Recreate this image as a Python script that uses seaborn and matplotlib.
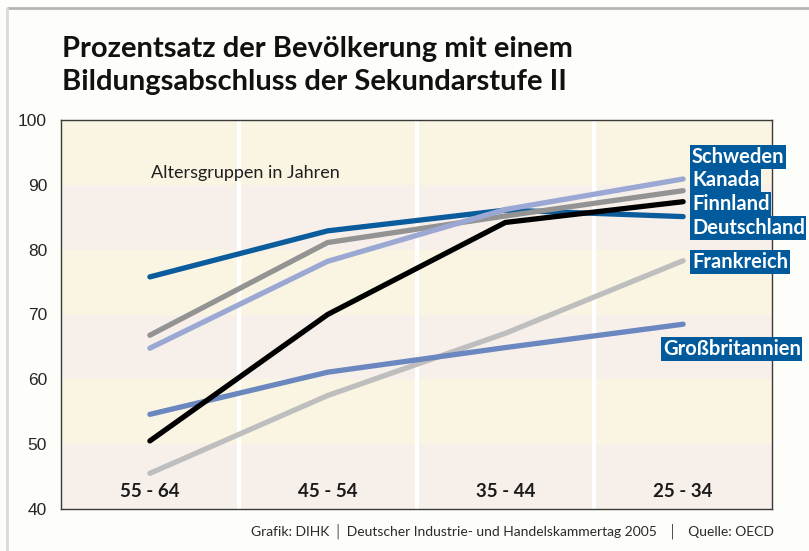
import matplotlib
matplotlib.use("Agg")
import matplotlib.pyplot as plt
import matplotlib.transforms as mtransforms
from matplotlib.lines import Line2D
import seaborn as sns
import pandas as pd

# data
age_groups = ["55 - 64", "45 - 54", "35 - 44", "25 - 34"]
schweden = [64.8, 78.2, 86.2, 90.9]
kanada = [66.8, 81.1, 85.2, 89.1]
finnland = [50.5, 70.0, 84.2, 87.4]
deutschland = [75.8, 82.9, 86.1, 85.1]
frankreich = [45.5, 57.5, 67.1, 78.3]
grossbritannien = [54.6, 61.1, 64.9, 68.5]

countries = ["Frankreich", "Großbritannien", "Deutschland", "Kanada", "Finnland", "Schweden"]
values = {
    "Schweden": schweden,
    "Kanada": kanada,
    "Finnland": finnland,
    "Deutschland": deutschland,
    "Frankreich": frankreich,
    "Großbritannien": grossbritannien,
}
palette = {
    "Schweden": "#9aa8d3",
    "Kanada": "#939393",
    "Finnland": "#000000",
    "Deutschland": "#0b5c9c",
    "Frankreich": "#bebebe",
    "Großbritannien": "#6a87bf",
}
yticks = [40, 50, 60, 70, 80, 90, 100]

rows = []
for c in countries:
    for g, v in zip(age_groups, values[c]):
        rows.append({"Altersgruppe": g, "Land": c, "Prozent": v})
df = pd.DataFrame(rows)

sns.set_style("white")
plt.rcParams["font.family"] = ["Lato", "DejaVu Sans"]

fig = plt.figure(figsize=(8.09, 5.51), dpi=100)
fig.patch.set_facecolor("#fdfdf9")
ax = fig.add_axes([61 / 809, 42 / 551, 711 / 809, 389 / 551])

# alternating background bands
band_colors = ["#f6efea", "#faf5e2"]
for i, lo in enumerate(yticks[:-1]):
    ax.axhspan(lo, lo + 10, color=band_colors[i % 2], lw=0, zorder=0)
for xv in [0.5, 1.5, 2.5]:
    ax.axvline(xv, color="white", lw=3, zorder=1)

sns.lineplot(data=df, x="Altersgruppe", y="Prozent", hue="Land",
             hue_order=countries, palette=palette, sort=False,
             lw=3.8, solid_capstyle="round", legend=False, ax=ax, zorder=3)

ax.set_xlim(-0.5, 3.5)
ax.set_ylim(40, 100)
ax.set_yticks(yticks)
ax.set_yticklabels([str(t) for t in yticks], fontsize=12.5,
                   family="Liberation Sans")
ax.tick_params(axis="y", length=0, pad=10)
ax.set_xticks([])
ax.set_xlabel("")
ax.set_ylabel("")
for s in ax.spines.values():
    s.set_color("#3a3a3a")
    s.set_linewidth(1.0)

# category labels inside the plot
trans = mtransforms.blended_transform_factory(ax.transData, ax.transAxes)
for i, g in enumerate(age_groups):
    ax.text(i, 0.045, g, transform=trans, ha="center", va="center",
            fontsize=13.5, fontweight="bold", color="#1a1a1a")

ax.text(0.127, 0.865, "Altersgruppen in Jahren", transform=ax.transAxes,
        fontsize=13, color="#1f1f1f", va="center")

# country labels on the right
label_pos = {
    "Schweden": (692, 157),
    "Kanada": (692, 180),
    "Finnland": (692, 204),
    "Deutschland": (692, 228),
    "Frankreich": (692, 262),
    "Großbritannien": (663, 349),
}
for name, (px, py) in label_pos.items():
    fig.text(px / 809, 1 - py / 551, name, fontsize=14.5, fontweight="bold",
             color="white", va="center", ha="left",
             bbox=dict(boxstyle="square,pad=0.08", fc="#005a9b", ec="none"))

# title
fig.text(62 / 809, 1 - 49 / 551, "Prozentsatz der Bevölkerung mit einem",
         fontsize=21, fontweight="bold", color="#111111", va="center")
fig.text(62 / 809, 1 - 82 / 551, "Bildungsabschluss der Sekundarstufe II",
         fontsize=21, fontweight="bold", color="#111111", va="center")

fig.text(774 / 809, 1 - 531 / 551,
         "Grafik: DIHK │ Deutscher Industrie- und Handelskammertag 2005   │   Quelle: OECD",
         fontsize=10, color="#2a2a2a", ha="right", va="center")

# card border
fig.add_artist(Line2D([8 / 809, 1], [1 - 8 / 551, 1 - 8 / 551], color="#b5b5b5", lw=2))
fig.add_artist(Line2D([7 / 809, 7 / 809], [0, 1 - 8 / 551], color="#dadada", lw=2))

fig.savefig("out.png", dpi=100, facecolor=fig.get_facecolor())
